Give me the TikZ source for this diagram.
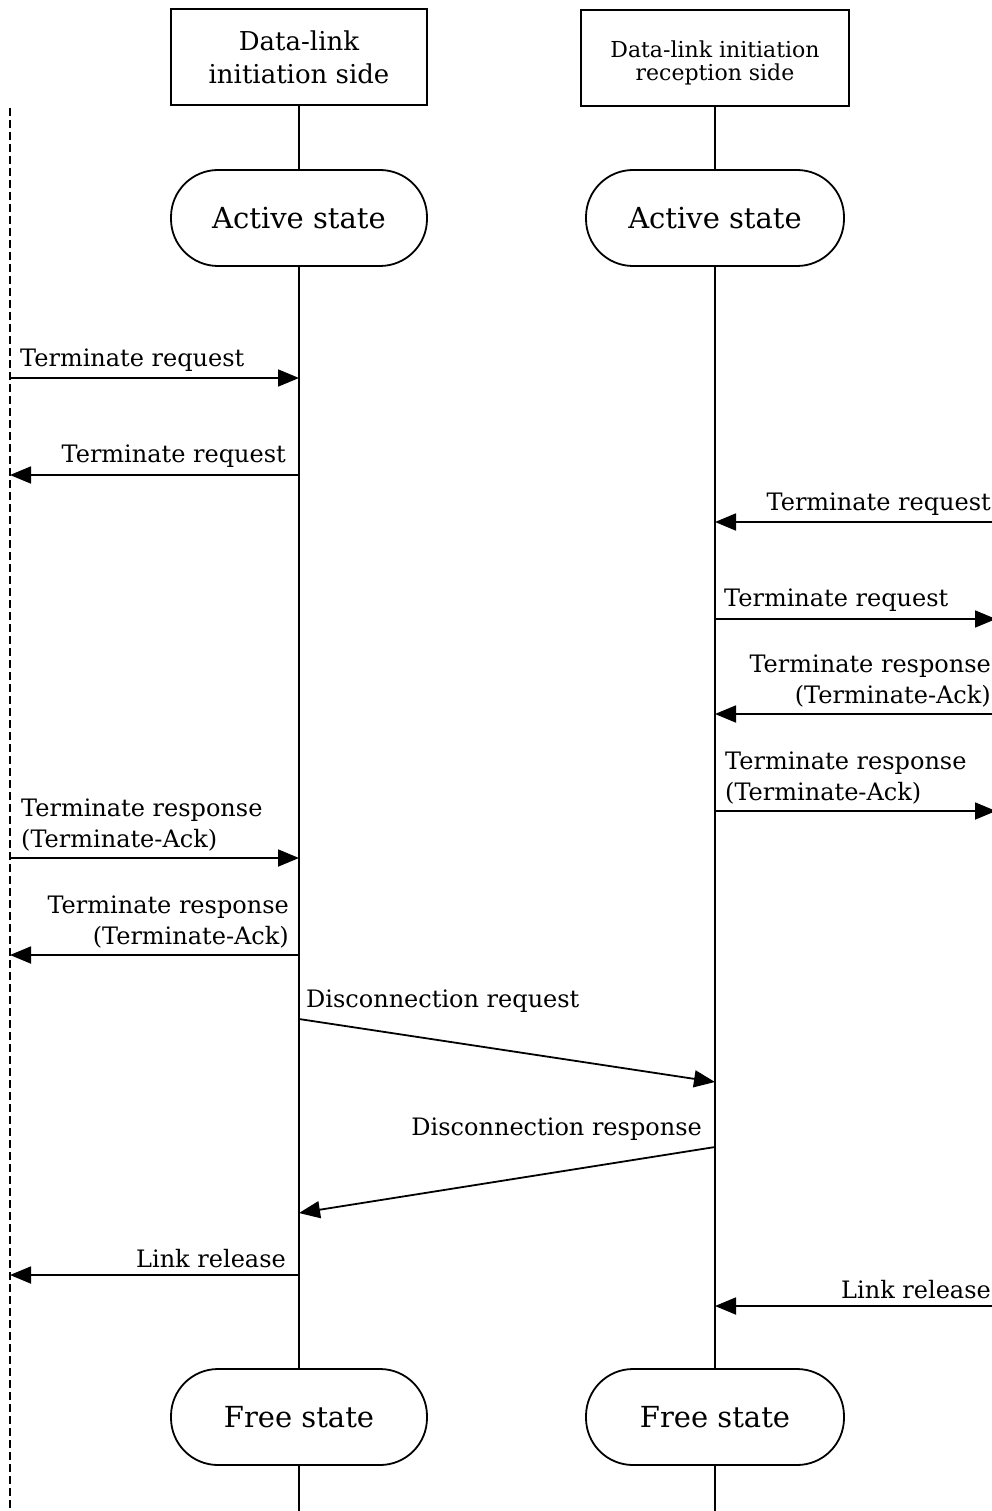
\documentclass[tikz,border=0pt]{standalone}
\usepackage{fontspec}
\setmainfont{DejaVu Serif}
\usetikzlibrary{arrows.meta}
\begin{document}
\begin{tikzpicture}[x=1pt,y=-1pt,
  ln/.style={line width=1.8pt},
  msg/.style={ln,-{Triangle[length=21pt,width=17pt]}},
  hdr/.style={draw,ln,minimum width=256pt,minimum height=96pt,inner sep=0pt,align=center},
  statebox/.style={draw,ln,rounded corners=47pt,minimum width=256pt,minimum height=96pt,inner sep=0pt,font=\fontsize{29}{34}\selectfont},
  lbl/.style={inner sep=0pt,font=\fontsize{24}{31}\selectfont},
  lblL/.style={lbl,anchor=south west,align=left},
  lblR/.style={lbl,anchor=south east,align=right}
]
\useasboundingbox (0,0) rectangle (992,1511);

% boundary of the upper layer
\draw[line width=1.3pt,dash pattern=on 8pt off 4pt] (10,108) coordinate (dtop) -- (10,1511) coordinate (dbot);

% participants
\node[hdr,font=\fontsize{26}{33}\selectfont] (hA) at (299,57) {Data-link\\initiation side};
\node[hdr,minimum width=268pt,
  label={[font=\fontsize{22}{23}\selectfont,align=center,yshift=-5pt]center:Data-link initiation\\reception side}] (hB) at (715,58) {};

\node[statebox] (actA) at (299,218) {Active state};
\node[statebox,minimum width=258pt] (actB) at (715,218) {Active state};
\node[statebox] (freeA) at (299,1417) {Free state};
\node[statebox,minimum width=258pt] (freeB) at (715,1417) {Free state};

\coordinate (endA) at (299,1511);
\coordinate (endB) at (715,1511);

% lifelines
\draw[ln] (hA.south) -- (actA.north);
\draw[ln] (actA.south) -- (freeA.north);
\draw[ln] (freeA.south) -- (endA);
\draw[ln] (hB.south) -- (actB.north);
\draw[ln] (actB.south) -- (freeB.north);
\draw[ln] (freeB.south) -- (endB);

% message end points
\coordinate (u1) at (10,378);   \coordinate (a1) at (299,378);
\coordinate (a2) at (299,475);  \coordinate (u2) at (10,475);
\coordinate (r3) at (996,522);  \coordinate (b3) at (715,522);
\coordinate (b4) at (715,619);  \coordinate (r4) at (996,619);
\coordinate (r5) at (996,714);  \coordinate (b5) at (715,714);
\coordinate (b6) at (715,811);  \coordinate (r6) at (996,811);
\coordinate (u7) at (10,858);   \coordinate (a7) at (299,858);
\coordinate (a8) at (299,955);  \coordinate (u8) at (10,955);
\coordinate (a9) at (299,1019); \coordinate (b9) at (715,1082);
\coordinate (b10) at (715,1147); \coordinate (a10) at (299,1213);
\coordinate (a11) at (299,1275); \coordinate (u11) at (10,1275);
\coordinate (r12) at (996,1306); \coordinate (b12) at (715,1306);

% messages
\draw[msg] (u1) -- (a1);
\node[lblL] (t1) at (20,372) {Terminate request};
\draw[msg] (a2) -- (u2);
\node[lblR] (t2) at (286,468) {Terminate request};
\draw[msg] (r3) -- (b3);
\node[lblR] (t3) at (991,516) {Terminate request};
\draw[msg] (b4) -- (r4);
\node[lblL] (t4) at (724,612) {Terminate request};
\draw[msg] (r5) -- (b5);
\node[lblR] (t5) at (991,707) {Terminate response\\(Terminate-Ack)};
\draw[msg] (b6) -- (r6);
\node[lblL] (t6) at (725,804) {Terminate response\\(Terminate-Ack)};
\draw[msg] (u7) -- (a7);
\node[lblL] (t7) at (21,851) {Terminate response\\(Terminate-Ack)};
\draw[msg] (a8) -- (u8);
\node[lblR] (t8) at (289,948) {Terminate response\\(Terminate-Ack)};
\draw[msg] (a9) -- (b9);
\node[lblL] (t9) at (306,1013) {Disconnection request};
\draw[msg] (b10) -- (a10);
\node[lblR] (t10) at (702,1141) {Disconnection response};
\draw[msg] (a11) -- (u11);
\node[lblR] (t11) at (286,1268) {Link release};
\draw[msg] (r12) -- (b12);
\node[lblR] (t12) at (991,1299) {Link release};
\end{tikzpicture}
\end{document}
